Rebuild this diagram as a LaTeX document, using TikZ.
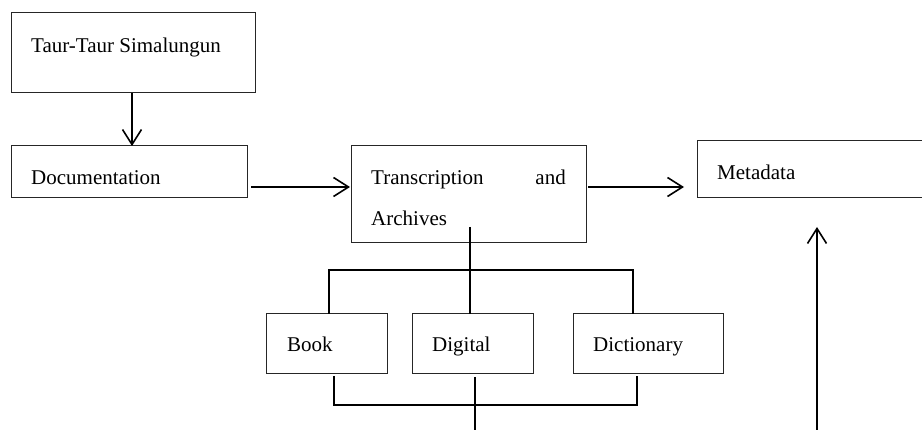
\documentclass[tikz,border=0pt]{standalone}
\usepackage{fontspec}
\setmainfont{Liberation Serif}
\usetikzlibrary{arrows.meta}
\tikzset{
  box/.style={draw=black!85, line width=1pt, rectangle, inner sep=0pt, outer sep=0pt},
  lbl/.style={inner sep=0pt, anchor=base west, font=\fontsize{21}{25}\selectfont},
  conn/.style={draw=black, line width=1.6pt},
  arr/.style={conn, -{Straight Barb[length=15pt,width=19pt,line width=1.6pt]}}
}
\begin{document}
\begin{tikzpicture}[x=1pt,y=-1pt]
\clip (0,0) rectangle (922,430);
\fill[white] (0,0) rectangle (922,430);
% boxes
\node[box, minimum width=244pt, minimum height=80pt] (taur) at (133,53) {};
\node[box, minimum width=236pt, minimum height=52pt] (doc) at (129,172) {};
\node[box, minimum width=235pt, minimum height=97pt] (trans) at (468.5,194.5) {};
\node[box, minimum width=250pt, minimum height=57pt] (meta) at (822,169.5) {};
\node[box, minimum width=121pt, minimum height=60pt] (book) at (326.5,344) {};
\node[box, minimum width=121pt, minimum height=60pt] (digital) at (472.5,344) {};
\node[box, minimum width=150pt, minimum height=60pt] (dict) at (648,344) {};
% labels
\node[lbl] (taurt) at (31,53) {Taur-Taur Simalungun};
\node[lbl] (doct) at (31,185) {Documentation};
\node[lbl] (transt) at (371,185) {Transcription};
\node[lbl, anchor=base east] (andt) at (566,185) {and};
\node[lbl] (archt) at (371,226) {Archives};
\node[lbl] (metat) at (717,180) {Metadata};
\node[lbl] (bookt) at (287,352) {Book};
\node[lbl] (digt) at (432,352) {Digital};
\node[lbl] (dictt) at (593,352) {Dictionary};
% coordinates
\coordinate (hub) at (470,227);
\coordinate (topbar) at (470,270);
\coordinate (botbar) at (475,405);
\coordinate (outend) at (475,435);
\coordinate (upstart) at (817,435);
\coordinate (uptip) at (817,227);
% connectors
\draw[arr] (taur.south -| 132,0) -- (doc.north -| 132,0);
\draw[arr] ([xshift=4pt]doc.east |- 0,187) -- ([xshift=-1pt]trans.west |- 0,187);
\draw[arr] ([xshift=2pt]trans.east |- 0,187) -- ([xshift=-13pt]meta.west |- 0,187);
\draw[conn] (hub) -- (digital.north -| hub);
\draw[conn] (book.north -| 329,0) -- (329,270) -- (topbar) -- (633,270) -- (dict.north -| 633,0);
\draw[conn] ([yshift=-2pt]book.south -| 334,0) -- (334,405) -- (botbar) -- (637,405) -- ([yshift=-2pt]dict.south -| 637,0);
\draw[conn] ([yshift=-3pt]digital.south -| botbar) -- (outend);
\draw[arr] (upstart) -- (uptip);
\end{tikzpicture}
\end{document}
